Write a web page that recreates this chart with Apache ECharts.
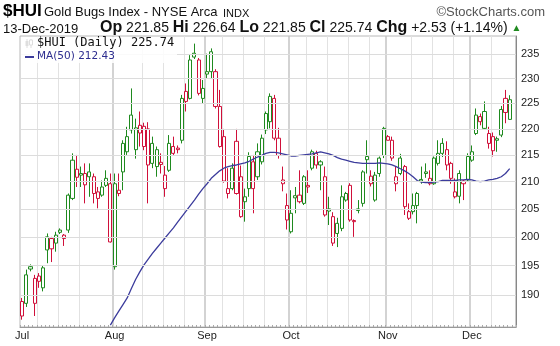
<!DOCTYPE html>
<html><head><meta charset="utf-8">
<script src="https://cdn.jsdelivr.net/npm/echarts@6/dist/echarts.min.js"></script>
<style>html,body{margin:0;padding:0;background:#fff}#c{width:560px;height:346px}</style>
</head><body><div id="c"></div>
<script>
const dates = [
'2019-07-01','2019-07-02','2019-07-03','2019-07-05','2019-07-08','2019-07-09','2019-07-10','2019-07-11','2019-07-12','2019-07-15','2019-07-16','2019-07-17','2019-07-18','2019-07-19','2019-07-22','2019-07-23','2019-07-24','2019-07-25','2019-07-26','2019-07-29','2019-07-30','2019-07-31',
'2019-08-01','2019-08-02','2019-08-05','2019-08-06','2019-08-07','2019-08-08','2019-08-09','2019-08-12','2019-08-13','2019-08-14','2019-08-15','2019-08-16','2019-08-19','2019-08-20','2019-08-21','2019-08-22','2019-08-23','2019-08-26','2019-08-27','2019-08-28','2019-08-29','2019-08-30',
'2019-09-03','2019-09-04','2019-09-05','2019-09-06','2019-09-09','2019-09-10','2019-09-11','2019-09-12','2019-09-13','2019-09-16','2019-09-17','2019-09-18','2019-09-19','2019-09-20','2019-09-23','2019-09-24','2019-09-25','2019-09-26','2019-09-27','2019-09-30',
'2019-10-01','2019-10-02','2019-10-03','2019-10-04','2019-10-07','2019-10-08','2019-10-09','2019-10-10','2019-10-11','2019-10-14','2019-10-15','2019-10-16','2019-10-17','2019-10-18','2019-10-21','2019-10-22','2019-10-23','2019-10-24','2019-10-25','2019-10-28','2019-10-29','2019-10-30','2019-10-31',
'2019-11-01','2019-11-04','2019-11-05','2019-11-06','2019-11-07','2019-11-08','2019-11-11','2019-11-12','2019-11-13','2019-11-14','2019-11-15','2019-11-18','2019-11-19','2019-11-20','2019-11-21','2019-11-22','2019-11-25','2019-11-26','2019-11-27','2019-11-29',
'2019-12-02','2019-12-03','2019-12-04','2019-12-05','2019-12-06','2019-12-09','2019-12-10','2019-12-11','2019-12-12','2019-12-13'
];
const opens = [188.9,188.6,194.8,188.6,193.2,191.2,197.7,199.7,198.9,201.2,199.7,201.2,206.9,212.3,211.5,211.5,210.9,210.9,208.1,207.5,209.3,209.6,
194.8,207.8,211.8,215.6,222.7,216.0,220.7,220.5,220.0,217.2,212.8,213.6,208.7,212.1,215.3,216.3,217.8,227.4,226.0,235.2,233.8,226.0,
231.4,231.4,231.4,224.4,218.5,207.8,208.7,217.6,210.9,206.3,208.7,213.7,210.9,213.7,219.8,221.4,226.0,218.2,209.6,205.6,
200.9,207.4,207.5,206.0,209.0,212.5,215.3,213.1,210.9,205.0,203.6,200.6,201.5,206.6,209.3,202.7,205.0,206.0,214.7,211.0,206.6,211.5,214.9,
217.8,217.8,209.6,211.5,212.8,203.3,204.5,205.6,210.4,211.8,210.6,209.6,213.4,215.3,216.0,213.4,208.1,207.3,209.6,210.3,
214.0,219.1,222.4,220.1,219.1,218.5,218.1,218.8,226.0,221.85];
const highs = [189.5,194.3,195.2,193.4,193.7,195.0,200.6,200.0,200.9,201.5,200.5,207.8,215.3,215.0,212.8,213.4,213.4,211.5,209.0,210.2,212.1,211.5,
211.5,211.5,217.8,220.4,228.0,222.0,223.4,221.2,221.3,218.5,216.6,215.3,212.9,218.8,218.5,216.8,226.7,229.0,234.8,237.2,234.2,229.7,
235.1,236.2,231.9,227.7,220.0,212.5,213.4,220.0,213.0,208.7,215.5,215.0,217.2,218.9,223.4,227.0,226.7,220.2,212.8,207.8,
208.4,209.0,212.1,211.2,212.1,216.0,215.8,214.0,212.8,207.2,204.4,203.4,209.3,208.1,209.7,203.1,206.6,212.1,217.8,212.1,211.8,214.7,220.4,
218.8,218.5,212.8,215.2,213.1,206.0,207.8,208.1,212.8,213.4,212.1,214.7,217.8,218.2,217.6,213.7,210.6,212.1,210.3,215.3,
216.8,224.0,223.0,225.4,220.4,219.3,218.5,224.5,227.7,226.64];
const lows = [185.9,188.0,194.0,186.5,191.2,190.6,195.4,195.6,197.4,200.5,198.4,200.7,206.6,209.0,209.0,206.0,207.2,206.0,205.1,207.2,209.0,199.0,
194.3,207.3,208.4,215.0,219.1,214.3,216.6,215.9,206.0,212.5,210.9,211.5,207.2,211.8,215.0,215.3,217.2,223.4,225.8,234.0,226.6,225.0,
230.0,229.9,224.0,216.4,209.8,206.9,208.4,207.6,203.4,202.7,207.2,204.2,210.3,213.2,219.0,220.1,217.8,214.3,208.2,201.3,
200.6,204.2,206.0,205.7,207.9,212.1,212.4,208.4,203.6,202.1,198.4,198.2,201.0,206.3,202.7,200.0,204.2,205.4,211.5,209.1,206.3,210.9,214.4,
217.8,213.9,208.2,211.2,203.9,203.0,204.0,202.4,209.6,210.7,209.3,209.4,213.0,214.6,212.1,209.6,206.9,206.0,206.6,210.1,
213.7,218.8,220.7,219.8,216.2,214.7,215.6,218.4,221.1,221.85];
const closes = [186.5,193.4,194.4,192.8,192.3,194.6,200.0,197.9,200.3,200.8,200.3,207.5,214.0,210.8,211.2,209.4,211.8,207.8,206.9,209.0,210.6,199.1,
209.6,208.4,217.2,218.5,219.8,220.2,219.2,216.6,213.1,213.4,216.0,213.2,211.2,217.2,216.6,216.0,226.0,225.4,233.8,234.4,227.0,228.0,
230.9,235.5,224.4,216.6,210.1,208.7,212.5,207.8,203.6,207.2,214.7,208.7,215.6,218.2,223.0,226.4,218.2,214.9,210.3,203.0,
204.2,207.0,206.3,210.9,209.3,215.6,213.1,213.7,203.9,204.6,198.9,202.4,207.2,207.8,203.0,202.9,204.7,211.8,214.1,209.6,211.2,214.4,220.1,
218.5,214.4,210.9,214.4,205.4,204.5,205.6,207.8,210.1,211.5,209.6,214.4,215.3,217.2,213.1,210.6,207.2,211.5,210.1,214.7,
215.6,222.7,221.4,223.4,217.2,215.8,217.8,223.8,223.21,225.74];
const ma50 = [null,null,null,null,null,null,null,null,null,null,null,null,null,null,null,null,null,null,null,null,null,185.0,
186.2,187.3,188.4,189.5,191.1,192.6,193.9,195.1,196.1,197.1,198.0,198.9,199.8,200.7,201.6,202.6,203.6,204.6,205.6,206.6,207.7,208.7,
209.6,210.6,211.3,212.0,212.5,212.8,213.0,213.1,213.3,213.5,213.8,214.2,214.6,214.9,215.3,215.5,215.5,215.4,215.2,215.0,
214.8,214.8,214.9,215.0,215.1,215.2,215.4,215.6,215.4,215.2,214.9,214.5,214.2,214.0,213.8,213.6,213.5,213.4,213.4,213.4,213.4,213.5,213.4,
213.3,213.1,212.8,212.4,212.0,211.5,210.9,210.2,209.9,209.8,209.8,209.9,210.0,210.2,210.2,210.2,210.2,210.3,210.3,210.4,
210.3,210.1,210.0,210.1,210.3,210.4,210.6,210.9,211.5,212.43];
const priorClose = 190.5;
const yTicks = [190,195,200,205,210,215,220,225,230,235];
const monthNames = {'07':'Jul','08':'Aug','09':'Sep','10':'Oct','11':'Nov','12':'Dec'};

const GREEN = '#1f8a1f', RED = '#d0103a', MA_COLOR = '#3c3c9c';
const cats = dates.concat(['']);
const monthStarts = [], weekStarts = [];
dates.forEach((d, i) => {
  if (i > 0 && d.slice(5,7) !== dates[i-1].slice(5,7)) monthStarts.push(i);
  if (i > 0) {
    const wd = new Date(d + 'T00:00:00Z').getUTCDay();
    const pwd = new Date(dates[i-1] + 'T00:00:00Z').getUTCDay();
    if (wd < pwd) weekStarts.push(i);
  }
});
const weekLines = weekStarts.filter(w => !monthStarts.some(m => (m - w >= 0 && m - w <= 3) || (w - m > 0 && w - m <= 2)));
const labelIdx = [0].concat(monthStarts);

const candleData = dates.map((d, i) => {
  const prev = i === 0 ? priorClose : closes[i-1];
  const col = closes[i] >= prev ? GREEN : RED;
  return { value: [opens[i], closes[i], lows[i], highs[i]],
    itemStyle: { color: '#fff', color0: col, borderColor: col, borderColor0: col } };
});

const chart = echarts.init(document.getElementById('c'), null, { renderer: 'canvas' });
const FONT = '"Liberation Sans", Arial, sans-serif';
chart.setOption({
  animation: false,
  backgroundColor: '#fff',
  grid: { left: 20, right: 44, top: 36, bottom: 19, show: true, borderColor: '#b8b8b8', borderWidth: 1, backgroundColor: 'transparent' },
  xAxis: [{
    type: 'category', data: cats, boundaryGap: true,
    axisLine: { show: true, lineStyle: { color: '#999' } },
    axisTick: { show: true, interval: 0, inside: true, length: 2, lineStyle: { color: '#aaa' } },
    axisLabel: { interval: (i) => labelIdx.indexOf(i) >= 0, formatter: (v) => monthNames[v.slice(5,7)] || '',
      color: '#222', fontSize: 11, fontFamily: FONT, margin: 3 },
    splitLine: { show: true, interval: (i) => monthStarts.indexOf(i) >= 0, lineStyle: { color: '#c4c4c4', width: 1.5 } }
  }, {
    type: 'category', data: cats, boundaryGap: true, position: 'bottom',
    axisLine: { show: false }, axisTick: { show: false }, axisLabel: { show: false },
    splitLine: { show: true, interval: (i) => weekLines.indexOf(i) >= 0, lineStyle: { color: '#e2e2e2', width: 1 } }
  }],
  yAxis: {
    type: 'log', logBase: 10, min: 184.7, max: 238.8, position: 'right',
    axisLine: { show: true, lineStyle: { color: '#888' } },
    axisTick: { show: false }, axisLabel: { show: false }, splitLine: { show: false }
  },
  series: [{
    type: 'line', data: [], z: 1, silent: true,
    markLine: {
      silent: true, symbol: ['none', 'none'], animation: false,
      lineStyle: { color: '#dcdcdc', type: 'solid', width: 1 },
      label: { show: true, position: 'end', distance: 5, formatter: (p) => String(p.value), color: '#222', fontSize: 11, fontFamily: FONT },
      emphasis: { disabled: true },
      data: yTicks.map(v => ({ yAxis: v }))
    }
  }, {
    type: 'candlestick', data: candleData, barWidth: 3.6, z: 3
  }, {
    type: 'line', data: ma50, z: 4, showSymbol: false, symbol: 'none', connectNulls: false,
    lineStyle: { color: MA_COLOR, width: 1.3 }, silent: true
  }],
  graphic: [
    { type: 'text', left: 3, top: 3, style: { text: '$HUI', font: 'bold 17px ' + FONT, fill: '#000' } },
    { type: 'text', left: 44, top: 6, style: { text: 'Gold Bugs Index - NYSE Arca', font: '13px ' + FONT, fill: '#111' } },
    { type: 'text', left: 223, top: 8, style: { text: 'INDX', font: '11px ' + FONT, fill: '#111' } },
    { type: 'text', right: 15, top: 6, style: { text: '\u00a9StockCharts.com', font: '13px ' + FONT, fill: '#555' } },
    { type: 'text', left: 3, top: 23, style: { text: '13-Dec-2019', font: '13px ' + FONT, fill: '#111' } },
    { type: 'text', left: 100, top: 20, style: {
      text: '{b|Op} 221.85 {b|Hi} 226.64 {b|Lo} 221.85 {b|Cl} 225.74 {b|Chg} +2.53 (+1.14%) {g|\u25B2}',
      font: '14px ' + FONT, fill: '#111',
      rich: { b: { fontSize: 16, fontWeight: 'bold', fontFamily: FONT, fill: '#111' }, g: { fontSize: 10, fill: GREEN, fontFamily: FONT } }
    } },
    { type: 'rect', shape: { x: 21, y: 37, width: 156, height: 26 }, style: { fill: 'rgba(255,255,255,0.85)' }, z: 10 },
    { type: 'group', z: 11, children: [
      { type: 'line', shape: { x1: 27, y1: 39, x2: 27, y2: 48 }, style: { stroke: '#222', lineWidth: 1 } },
      { type: 'rect', shape: { x: 25.5, y: 41, width: 3, height: 5 }, style: { fill: '#222' } },
      { type: 'line', shape: { x1: 31, y1: 39, x2: 31, y2: 48 }, style: { stroke: '#222', lineWidth: 1 } },
      { type: 'rect', shape: { x: 29.5, y: 40, width: 3, height: 5 }, style: { fill: '#fff', stroke: '#222', lineWidth: 1 } }
    ] },
    { type: 'text', left: 37, top: 37, z: 11, style: { text: '$HUI (Daily) 225.74', font: '12px "DejaVu Sans Mono", monospace', fill: '#111' } },
    { type: 'line', z: 11, shape: { x1: 25, y1: 57, x2: 34, y2: 57 }, style: { stroke: MA_COLOR, lineWidth: 2 } },
    { type: 'text', left: 37, top: 51, z: 11, style: { text: 'MA(50) 212.43', font: '10.5px "DejaVu Sans", Verdana, sans-serif', fill: '#2d2d8f' } }
  ]
});
</script>
</body></html>
